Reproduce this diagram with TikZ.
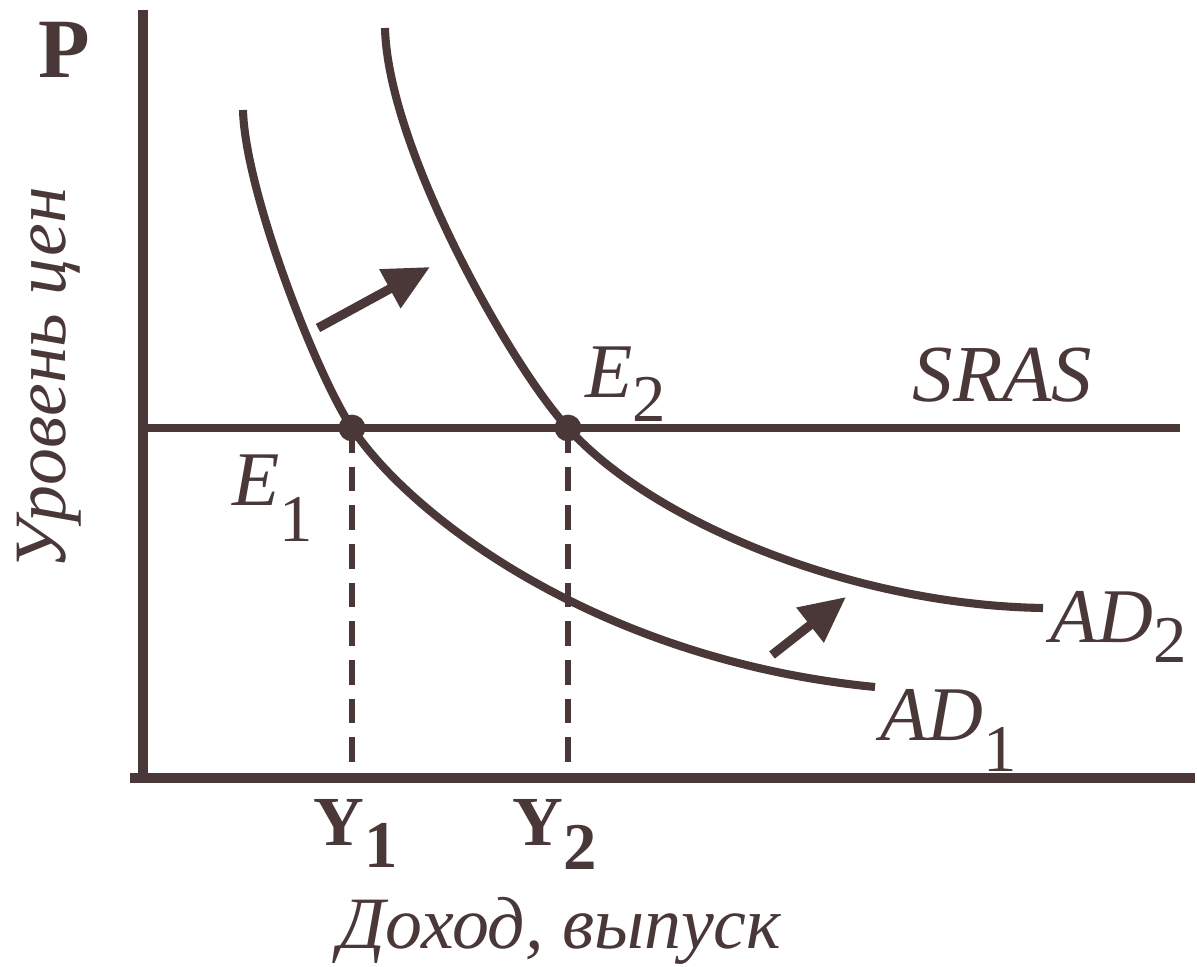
\documentclass[tikz,border=0pt]{standalone}
\usepackage{fontspec}
\setmainfont{Liberation Serif}
\usetikzlibrary{positioning}
\usetikzlibrary{arrows.meta}
\definecolor{ink}{RGB}{74,56,56}
\newcommand{\lowsub}[2][8pt]{\raisebox{-#1}{\fontsize{19}{19}\selectfont\upshape #2}}

\begin{document}
\begin{tikzpicture}[x=0.01cm, y=-0.01cm,
		axis/.style={ink, line width=2.7pt},
		curve/.style={ink, line width=2.3pt},
		guide/.style={ink, line width=1.8pt, dash pattern=on 7pt off 4pt},
		shiftarrow/.style={ink, line width=2.6pt, -{Triangle[length=13pt, width=12pt]}},
		lbl/.style={ink, inner sep=0pt, font=\fontsize{22}{26}\selectfont\itshape}]
				\useasboundingbox (0,0) rectangle (1197,967);
				\node[shape=coordinate] (top) at (143,10) {};
				\node[shape=coordinate] (O) at (143,778) {};
				\node[shape=coordinate] (xa) at (130,778) {};
				\node[shape=coordinate] (xb) at (1195,778) {};
				\coordinate (s0) at (143,428);
				\coordinate (s1) at (1180,428);
				\coordinate (E1) at (352,428);
				\coordinate (E2) at (568,428);
				\coordinate (Y1) at (352,778);
				\coordinate (Y2) at (568,778);
				\coordinate (a1) at (243,110);
				\coordinate (b1) at (875,687);
				\coordinate (a2) at (385,28);
				\coordinate (b2) at (1043,608);
				\coordinate (u0) at (318,328);
				\coordinate (u1) at (430,267);
				\coordinate (l0) at (772,655);
				\coordinate (l1) at (846,597);
				\draw[axis] (top) -- (O);
				\draw[axis] (xa) -- (xb);
				\draw[ink, line width=2pt] (s0) -- (s1);
				\draw[guide] (E1) -- (Y1);
				\draw[guide] (E2) -- (Y2);
				\draw[curve] (a1) .. controls (245,190) and (315,372) .. (E1)
					.. controls (412,518) and (600,660) .. (b1);
				\draw[curve] (a2) .. controls (388,150) and (513,369) .. (E2)
					.. controls (650,520) and (850,605) .. (b2);
				\filldraw[ink] (E1) circle (3.6pt);
				\filldraw[ink] (E2) circle (3.6pt);
				\draw[shiftarrow] (u0) -- (u1);
				\draw[shiftarrow] (l0) -- (l1);
				\node[ink, inner sep=0pt, anchor=base, font=\fontsize{24}{28}\selectfont\bfseries] (plbl) at (64,78) {P};
				\node[lbl, rotate=90, anchor=base, font=\fontsize{21}{24}\selectfont\itshape] (ylbl) at (65,378) {Уровень цен};
				\node[lbl, anchor=base west, font=\fontsize{23}{26}\selectfont\itshape] (srasl) at (912,402) {SRAS};
				\node[lbl, anchor=base west] (e1l) at (232,505) {E\lowsub[10.5pt]{1}};
				\node[lbl, anchor=base west] (e2l) at (585,398) {E\lowsub[6.8pt]{2}};
				\node[lbl, anchor=base west] (ad1l) at (880,740) {AD\lowsub[9pt]{1}};
				\node[lbl, anchor=base west] (ad2l) at (1050,642) {AD\lowsub[5.7pt]{2}};
				\node[ink, inner sep=0pt, anchor=base west, font=\fontsize{20}{24}\selectfont\bfseries] (y1l) at (313,845) {Y\lowsub[6.5pt]{1}};
				\node[ink, inner sep=0pt, anchor=base west, font=\fontsize{20}{24}\selectfont\bfseries] (y2l) at (512,845) {Y\lowsub[7pt]{2}};
				\node[lbl, anchor=base, font=\fontsize{21}{24}\selectfont\itshape] (xlbl) at (560,948) {Доход, выпуск};
			\end{tikzpicture}
\end{document}
